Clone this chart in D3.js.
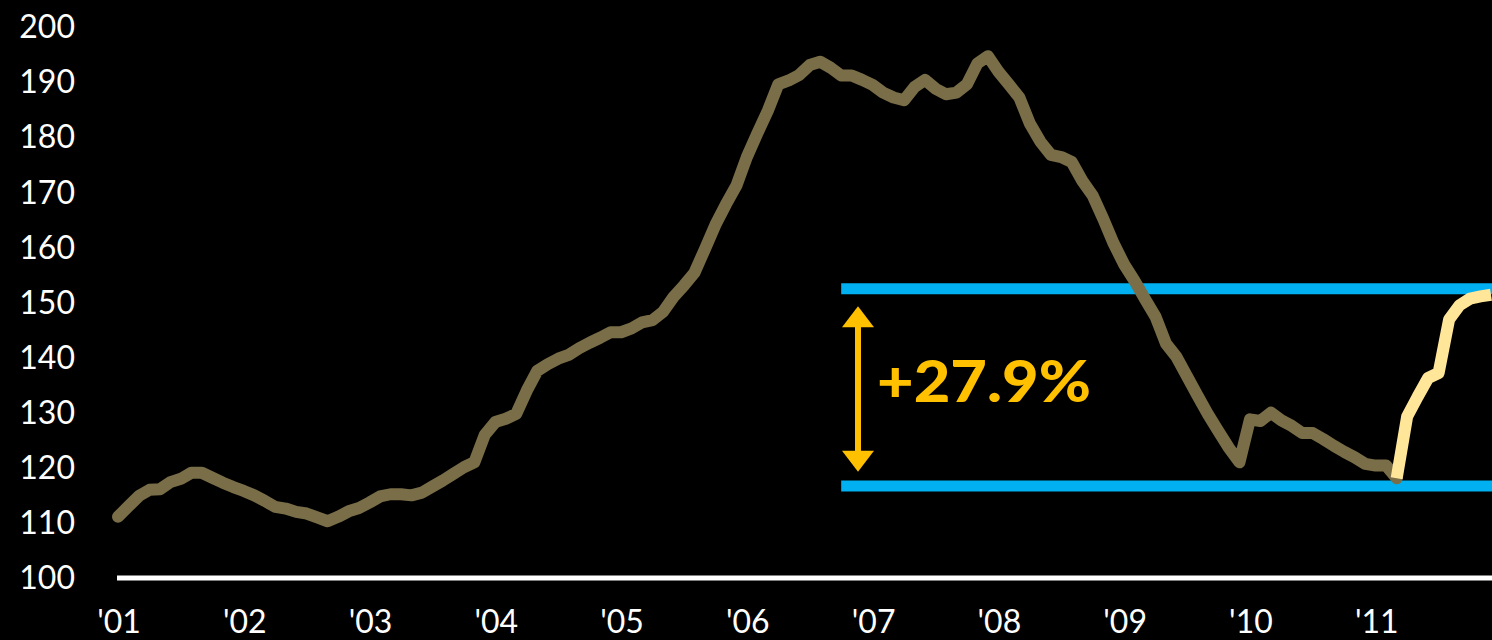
<!DOCTYPE html>
<html>
<head>
<meta charset="utf-8">
<title>Index 2001-2011</title>
<script src="https://d3js.org/d3.v7.min.js"></script>
<style>
  html, body { margin: 0; padding: 0; background: #000; }
  svg { display: block; }
  .tick-label { fill: #fff; font-family: "Lato", sans-serif; font-size: 32px; }
  .pct { fill: #ffc000; font-family: "Lato", sans-serif; font-weight: 900; font-size: 58px; }
</style>
</head>
<body>
<svg id="chart" width="1492" height="640"></svg>
<script>
// monthly index, Jan 2001 .. Mar 2011 (older part of the series)
var historyValues = [
  111.1, 113.0, 114.9, 116.0, 116.1, 117.4, 118.0, 119.1, 119.1, 118.2, 117.3, 116.5,
  115.8, 115.0, 114.0, 112.9, 112.6, 112.0, 111.7, 111.0, 110.3, 111.1, 112.1, 112.7,
  113.7, 114.8, 115.2, 115.2, 115.0, 115.5, 116.6, 117.7, 118.9, 120.1, 121.0, 126.0,
  128.3, 128.9, 129.8, 134.0, 137.6, 138.8, 139.8, 140.5, 141.7, 142.7, 143.6, 144.6,
  144.6, 145.3, 146.4, 146.8, 148.3, 151.0, 153.1, 155.4, 159.7, 164.1, 167.8, 171.2,
  176.4, 180.7, 184.8, 189.6, 190.3, 191.3, 193.1, 193.7, 192.6, 191.2, 191.2, 190.4,
  189.5, 188.1, 187.2, 186.7, 189.1, 190.4, 188.8, 187.8, 188.1, 189.6, 193.4, 194.7,
  191.9, 189.6, 187.2, 182.5, 179.2, 176.8, 176.4, 175.5, 172.1, 169.4, 165.2, 160.7,
  156.9, 153.9, 150.6, 147.4, 142.5, 140.1, 136.6, 133.1, 129.7, 126.6, 123.6, 121.0,
  128.8, 128.5, 130.0, 128.6, 127.6, 126.3, 126.3, 125.2, 124.0, 122.9, 121.9, 120.7,
  120.4, 120.4, 118.1
];
// recent rebound, Mar 2011 .. Dec 2011 (starts on the last history month)
var recentStart = 122;
var recentValues = [118.1, 129.3, 132.9, 136.3, 137.2, 146.9, 149.5, 150.7, 151.1, 151.4];

var yTicks = [100, 110, 120, 130, 140, 150, 160, 170, 180, 190, 200];
var yearLabels = ["'01", "'02", "'03", "'04", "'05", "'06", "'07", "'08", "'09", "'10", "'11"];

// annotation band and arrow (index values)
var bandLow = 116.7, bandHigh = 152.5;
var arrowLow = 119.3, arrowHigh = 149.3;
var bandStartMonth = 69.0;
var pctText = "+27.9%";

var svg = d3.select("#chart");

var x = d3.scaleLinear().domain([0, 131]).range([118, 1491]);
var y = d3.scaleLinear().domain([100, 200]).range([578, 27]);

svg.append("rect").attr("width", 1492).attr("height", 640).attr("fill", "#000");

// y labels
svg.selectAll(".ylab")
  .data(yTicks)
  .enter()
  .append("text")
  .attr("class", "tick-label")
  .attr("x", 75)
  .attr("y", function(d) { return y(d); })
  .attr("dy", "0.35em")
  .attr("text-anchor", "end")
  .text(function(d) { return d; });

// x labels, one per January
svg.selectAll(".xlab")
  .data(yearLabels)
  .enter()
  .append("text")
  .attr("class", "tick-label")
  .attr("x", function(d, i) { return x(i * 12) + 1; })
  .attr("y", 633)
  .attr("text-anchor", "middle")
  .text(function(d) { return d; });

// baseline
svg.append("line")
  .attr("x1", x(0) - 1).attr("x2", 1492)
  .attr("y1", y(100)).attr("y2", y(100))
  .attr("stroke", "#fff").attr("stroke-width", 5);

// band lines
[bandHigh, bandLow].forEach(function(v) {
  svg.append("line")
    .attr("x1", x(bandStartMonth)).attr("x2", 1492)
    .attr("y1", y(v)).attr("y2", y(v))
    .attr("stroke", "#00b0f0").attr("stroke-width", 11);
});

var line = d3.line()
  .x(function(d) { return x(d.m); })
  .y(function(d) { return y(d.v); });

var hist = historyValues.map(function(v, i) { return {m: i, v: v}; });
var recent = recentValues.map(function(v, i) { return {m: recentStart + i, v: v}; });

svg.append("path")
  .datum(hist)
  .attr("d", line)
  .attr("fill", "none")
  .attr("stroke", "#7a6e48")
  .attr("stroke-width", 12)
  .attr("stroke-linejoin", "round")
  .attr("stroke-linecap", "round");

svg.append("path")
  .datum(recent)
  .attr("d", line)
  .attr("fill", "none")
  .attr("stroke", "#ffe699")
  .attr("stroke-width", 12)
  .attr("stroke-linejoin", "round")
  .attr("stroke-linecap", "butt");

// double arrow
var ax = 858, head = 21, halfW = 16;
var yTop = y(arrowHigh), yBot = y(arrowLow);
svg.append("line")
  .attr("x1", ax).attr("x2", ax)
  .attr("y1", yTop + head - 2).attr("y2", yBot - head + 2)
  .attr("stroke", "#ffc000").attr("stroke-width", 6);
svg.append("path")
  .attr("d", "M" + ax + "," + yTop + "L" + (ax + halfW) + "," + (yTop + head) + "L" + (ax - halfW) + "," + (yTop + head) + "Z")
  .attr("fill", "#ffc000");
svg.append("path")
  .attr("d", "M" + ax + "," + yBot + "L" + (ax + halfW) + "," + (yBot - head) + "L" + (ax - halfW) + "," + (yBot - head) + "Z")
  .attr("fill", "#ffc000");

svg.append("text")
  .attr("class", "pct")
  .attr("x", 877)
  .attr("y", 402)
  .attr("textLength", 214)
  .attr("lengthAdjust", "spacingAndGlyphs")
  .text(pctText);
</script>
</body>
</html>
